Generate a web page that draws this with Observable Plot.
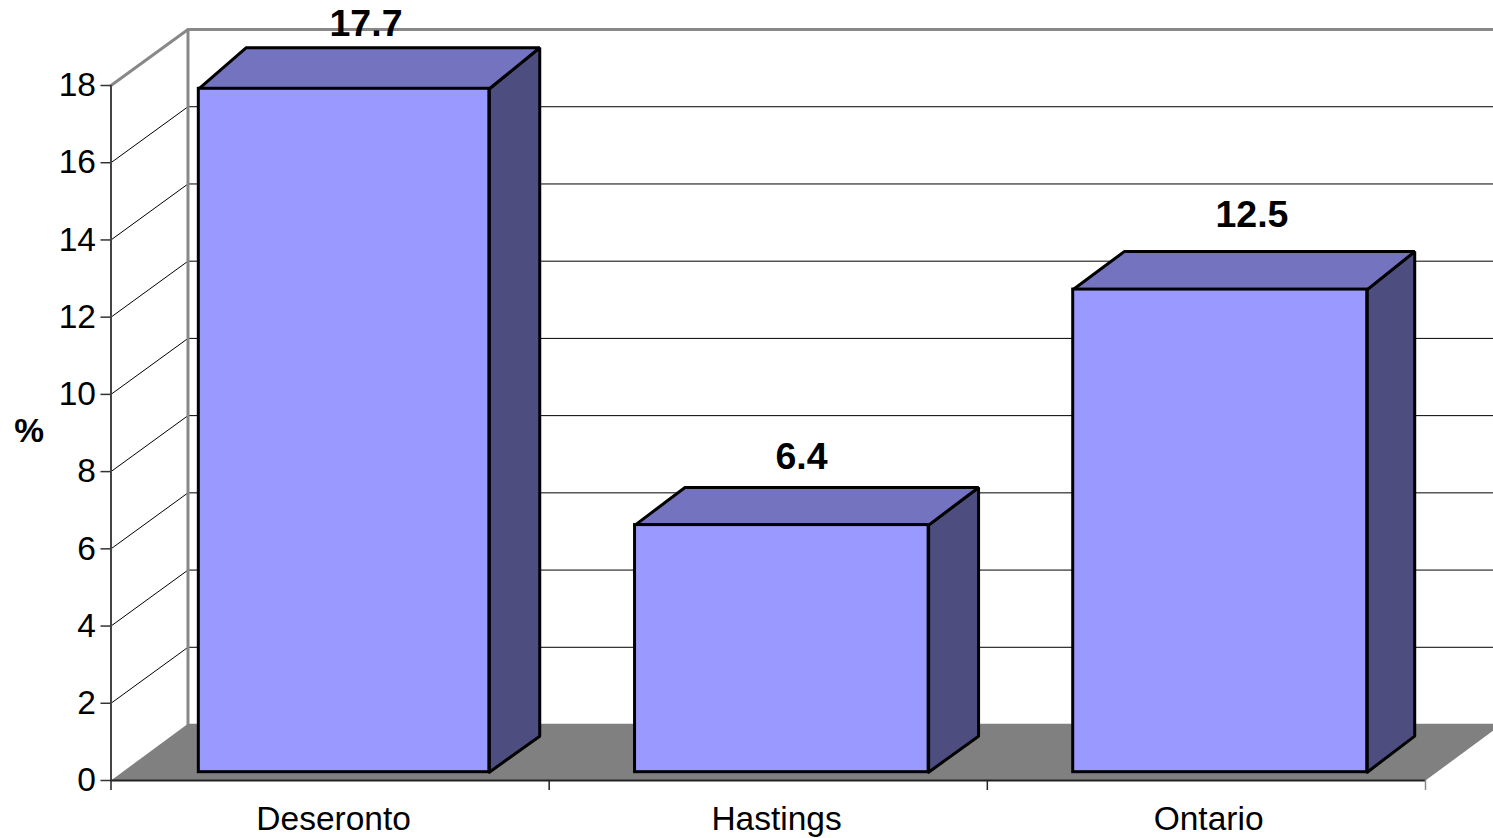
<!DOCTYPE html>
<html>
<head>
<meta charset="utf-8">
<script src="https://cdn.jsdelivr.net/npm/d3@7"></script>
<script src="https://cdn.jsdelivr.net/npm/@observablehq/plot@0.6"></script>
<style>
html,body{margin:0;padding:0;background:#fff;overflow:hidden}
</style>
</head>
<body>
<div id="chart"></div>
<script>
const categories = ["Deseronto", "Hastings", "Ontario"];
const values = [17.7, 6.4, 12.5];
const backTops = [17.83, 6.44, 12.55];
const valueLabels = ["17.7", "6.4", "12.5"];
const barLeft = [0.2004, 1.196, 2.196];
const barRight = [0.8635, 1.866, 2.867];
const depthLeft = [0.1084, 0.114, 0.1164];
const depthRight = [0.115, 0.114, 0.1084];
const categoryLabelX = [0.508, 1.519, 2.505];
const valueLabelX = [0.582, 1.576, 2.604];
const valueLabelY = [19.59, 8.37, 14.64];
const yTicks = [0, 2, 4, 6, 8, 10, 12, 14, 16, 18];
const gridTicks = [2, 4, 6, 8, 10, 12, 14, 16];
const xTicks = [0, 1, 2];

// Depth of the chart box and of the bars, in data units of each scale
const wallDx = 0.1757, wallDy = 1.45, floorDy = 1.47;
const barDy = 0.933, barBase = 0.215;

const poly = (id, pts) => pts.concat([pts[0]]).map(([x, y]) => ({id, x, y}));

const rows = categories.map((c, i) => ({
  c, v: values[i], back: backTops[i], l: barLeft[i], r: barRight[i],
  dl: depthLeft[i], dr: depthRight[i], top: values[i] + barBase
}));
const sideFaces = rows.flatMap(d => poly(d.c, [
  [d.r, barBase], [d.r + d.dr, barBase + barDy],
  [d.r + d.dr, d.back + barBase + barDy], [d.r, d.top]
]));
const topFaces = rows.flatMap(d => poly(d.c, [
  [d.l, d.top], [d.l + d.dl, d.back + barBase + barDy],
  [d.r + d.dr, d.back + barBase + barDy], [d.r, d.top]
]));
const floor = poly("floor", [[0, 0], [3, 0], [3 + wallDx, floorDy], [wallDx, floorDy]]);

const sideGrid = gridTicks.flatMap(v => [{v, x: 0, y: v}, {v, x: wallDx, y: v + wallDy}]);
const backGrid = gridTicks.flatMap(v => [{v, x: wallDx, y: v + wallDy}, {v, x: 3 + wallDx, y: v + wallDy}]);
const topEdge = [{x: 0, y: 18}, {x: wallDx, y: 18 + wallDy}, {x: 3 + wallDx, y: 18 + wallDy}];

const font = "'Liberation Sans', Arial, sans-serif";

const plot = Plot.plot({
  width: 1493,
  height: 838,
  marginLeft: 110.5,
  marginRight: 68,
  marginTop: 85,
  marginBottom: 58,
  style: {fontFamily: font, background: "#fff", overflow: "hidden"},
  x: {domain: [0, 3], axis: null},
  y: {domain: [0, 18], axis: null},
  marks: [
    // walls and gridlines
    Plot.line(sideGrid, {x: "x", y: "y", z: "v", stroke: "#000", strokeWidth: 1}),
    Plot.line(backGrid, {x: "x", y: "y", z: "v", stroke: "#000", strokeWidth: 1}),
    Plot.line([{x: wallDx, y: wallDy}, {x: wallDx, y: 18 + wallDy}], {x: "x", y: "y", stroke: "#888", strokeWidth: 3}),
    Plot.line(topEdge, {x: "x", y: "y", stroke: "#888", strokeWidth: 3, strokeLinejoin: "miter"}),
    Plot.line(floor, {x: "x", y: "y", fill: "#808080", stroke: "none"}),
    // axes
    Plot.ruleX([0], {y1: 0, y2: 18, stroke: "#444", strokeWidth: 2}),
    Plot.ruleY([0], {x1: 0, x2: 3, stroke: "#222", strokeWidth: 2}),
    Plot.axisY({
      ticks: yTicks, tickSize: 10, tickPadding: 5, fontSize: 33.5,
      label: null, stroke: "#333", strokeWidth: 1.5, fill: "#000"
    }),
    Plot.axisX({ticks: xTicks, tickSize: 10, tickFormat: () => "", label: null, stroke: "#222", strokeWidth: 1.5}),
    Plot.axisX({ticks: [3], tickSize: 10, tickFormat: () => "", label: null, stroke: "#888", strokeWidth: 1.5}),
    // bars
    Plot.line(sideFaces, {x: "x", y: "y", z: "id", fill: "#4D4D80", stroke: "#000", strokeWidth: 3, strokeLinejoin: "miter"}),
    Plot.line(topFaces, {x: "x", y: "y", z: "id", fill: "#7373BF", stroke: "#000", strokeWidth: 3, strokeLinejoin: "miter"}),
    Plot.rect(rows, {x1: "l", x2: "r", y1: barBase, y2: "top", fill: "#9999FF", stroke: "#000", strokeWidth: 3}),
    // text
    Plot.text(categories, {x: (d, i) => categoryLabelX[i], y: 0, dy: 39, text: d => d, fontSize: 33.5, fill: "#000"}),
    Plot.text(valueLabels, {x: (d, i) => valueLabelX[i], y: (d, i) => valueLabelY[i], text: d => d, fontSize: 37.5, fontWeight: "bold", fill: "#000"}),
    Plot.text(["%"], {x: -0.187, y: 9.04, text: d => d, fontSize: 33.5, fontWeight: "bold", fill: "#000"})
  ]
});
document.getElementById("chart").appendChild(plot);
</script>
</body>
</html>
